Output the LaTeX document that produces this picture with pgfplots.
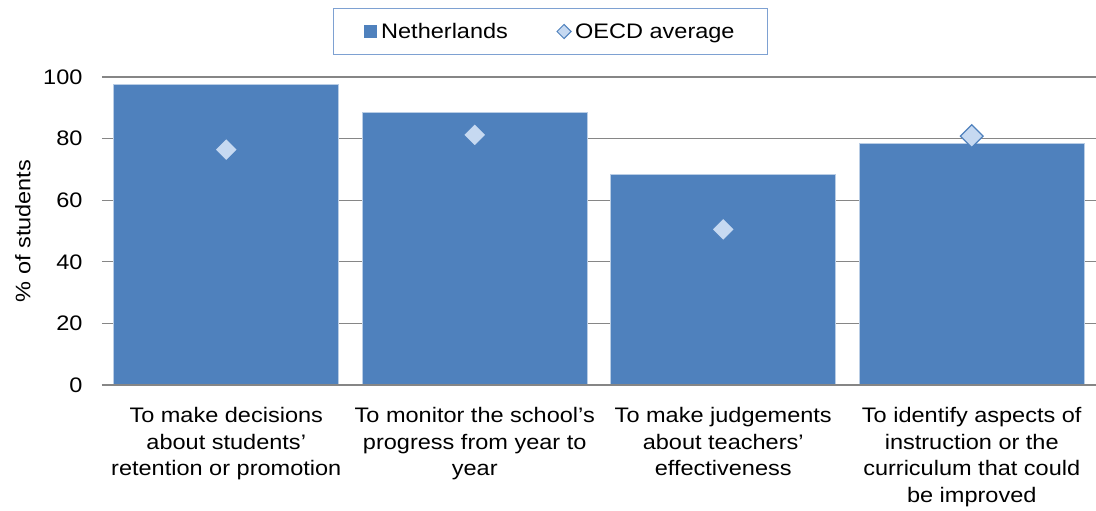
\documentclass[border=0pt]{standalone}
\usepackage{fontspec}
\setmainfont{Liberation Sans}[FakeStretch=1.12]
\usepackage{pgfplots}
\pgfplotsset{compat=1.18}
\definecolor{barblue}{HTML}{4F81BD}
\definecolor{barrim}{HTML}{B9CDE5}
\definecolor{oecdfill}{HTML}{C6D9F1}
\definecolor{gridgray}{HTML}{868686}
\definecolor{legrim}{HTML}{7EA1D2}

\begin{document}
\begin{tikzpicture}
\useasboundingbox (-102pt,-126pt) rectangle (994pt,385pt);
\begin{axis}[
  at={(0pt,0pt)}, anchor=south west,
  scale only axis, width=994pt, height=308pt,
  xmin=-0.5, xmax=3.5, ymin=0, ymax=100,
  enlargelimits=false,
  axis line style={draw=none},
  major tick length=0pt,
  ytick={0,20,...,100},
  ymajorgrids,
  grid style={draw=gridgray, line width=1.3pt},
  xtick={0,1,2,3},
  xticklabels={
    {To make decisions\\about students’\\retention or promotion},
    {To monitor the school’s\\progress from year to\\year},
    {To make judgements\\about teachers’\\effectiveness},
    {To identify aspects of\\instruction or the\\curriculum that could\\be improved}},
  /pgf/number format/assume math mode=true,
  tick label style={font=\fontsize{21}{26.5}\selectfont},
  yticklabel style={xshift=-16pt},
  xticklabel style={align=center, anchor=north, yshift=-19pt},
  ylabel={\% of students},
  ylabel style={at={(axis description cs:-0.0795,0.5)}, anchor=center,
    font=\fontsize{21}{26}\selectfont},
  legend style={at={(axis description cs:0.4512,1.1477)}, anchor=center,
    legend columns=2, draw=legrim, line width=0.8pt,
    font=\fontsize{21}{26}\selectfont, inner xsep=31pt, inner ysep=12.5pt,
    /tikz/every odd column/.append style={column sep=2pt},
    /tikz/every even column/.append style={column sep=47pt}},
]
\addplot[ybar, bar width=225pt, fill=barblue, draw=barrim, line width=0.8pt,
  legend image code/.code={\fill[barblue] (0pt,-6pt) rectangle (12pt,6pt);}]
  coordinates {(0,97.5) (1,88.4) (2,68.4) (3,78.3)};
\addlegendentry{Netherlands}
\addplot[only marks, mark=square*, mark size=8pt,
  mark options={rotate=45, fill=oecdfill, draw=barblue, line width=1.2pt},
  legend image code/.code={\draw[mark=square*, mark size=5pt,
    mark options={rotate=45, fill=oecdfill, draw=barblue, line width=1pt}]
    plot coordinates {(7pt,0pt)};}]
  coordinates {(0,76.4) (1,81.2) (2,50.5) (3,80.8)};
\addlegendentry{OECD average}
\draw[gridgray, line width=1.3pt] (rel axis cs:0,0) -- (rel axis cs:1,0);
\end{axis}
\end{tikzpicture}
\end{document}
